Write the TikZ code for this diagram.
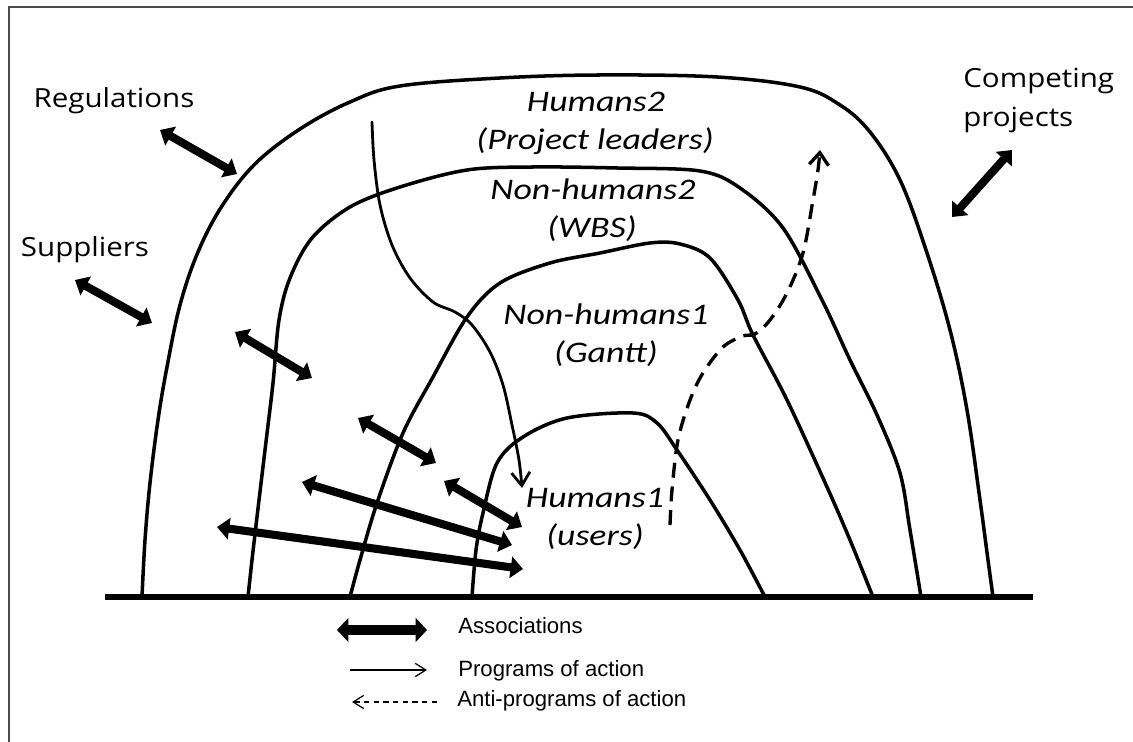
\documentclass[tikz,border=0pt]{standalone}
\usepackage{fontspec}
\usetikzlibrary{arrows.meta}
\newfontfamily\labelfont[FakeStretch=1.12]{Open Sans}
\newfontfamily\handfont[FakeStretch=1.2]{Carlito}
\newfontfamily\legendfont{Liberation Sans}
\begin{document}
\begin{tikzpicture}[x=0.02cm,y=-0.02cm,
  layer/.style={line width=2pt, line cap=round, line join=round},
  ground/.style={line width=2.9pt},
  frameline/.style={line width=1.1pt, black!70},
  assoc/.style={line width=4.6pt,
    {Triangle[length=7pt,width=12pt]}-{Triangle[length=7pt,width=12pt]}},
  assocleg/.style={line width=5.8pt,
    {Triangle[length=6.5pt,width=13.5pt]}-{Triangle[length=6.5pt,width=13.5pt]}},
  prog/.style={line width=1.6pt, line cap=round,
    -{Straight Barb[length=7.5pt,width=10.5pt]}},
  anti/.style={line width=1.9pt, dash pattern=on 8.5pt off 5pt,
    -{Straight Barb[length=7pt,width=11pt]}},
  progleg/.style={line width=0.7pt, -{Straight Barb[length=6pt,width=7.5pt]}},
  antileg/.style={line width=0.7pt, dash pattern=on 3pt off 2.5pt,
    -{Straight Barb[length=6pt,width=7.5pt]}},
  lbl/.style={font=\labelfont\fontsize{15}{18}\selectfont, inner sep=0pt},
  hand/.style={font=\handfont\itshape\fontsize{17}{20}\selectfont, inner sep=0pt},
  leg/.style={font=\legendfont\fontsize{12.6}{15}\selectfont, inner sep=0pt}]
\useasboundingbox (0,0) rectangle (1133,742);

% page frame (top and left edges)
\draw[frameline] (9,742) -- (9,7) -- (1133,7);

% ground line
\coordinate (gL) at (105,597);
\coordinate (gR) at (1033,597);
\draw[ground] (gL) -- (gR);

% outer layer: Humans2
\draw[layer] plot[smooth, tension=0.6] coordinates {
  (142,597) (145,540) (150,483) (158,420) (167,367) (180,305) (198,252)
  (222,206) (255,164) (300,129) (350,102) (400,86) (500,78) (600,75)
  (717,77) (800,87) (840,105) (870,132) (900,180) (926,250) (950,330)
  (967,410) (980,500) (988,560) (993,597)};

% second layer: Non-humans2
\draw[layer] plot[smooth, tension=0.55] coordinates {
  (248,597) (252,560) (257,517) (265,450) (273,383) (279,320) (290,278)
  (312,238) (350,207) (400,187) (467,170) (533,167) (617,168) (700,171)
  (740,188) (783,228) (822,300) (850,360) (877,415) (900,473) (910,530)
  (921,597)};

% third layer: Non-humans1
\draw[layer] plot[smooth, tension=0.55] coordinates {
  (350,597) (360,560) (377,503) (403,433) (433,377) (467,317) (500,283)
  (550,263) (600,253) (650,243) (680,244) (710,258) (738,300) (753,335)
  (787,400) (827,487) (850,540) (873,597)};

% inner layer: Humans1
\draw[layer] plot[smooth, tension=0.55] coordinates {
  (472,597) (476,550) (483,513) (497,463) (523,437) (567,418) (633,413)
  (657,423) (677,450) (710,500) (740,550) (765,597)};

% program of action
\coordinate (prgS) at (372,122);
\coordinate (prgE) at (522,488);
\draw[prog] plot[smooth, tension=0.55] coordinates {
  (prgS) (374,160) (380,205) (392,245) (410,278) (433,302) (455,312)
  (472,325) (490,352) (503,385) (512,425) (519,460) (prgE)};

% anti-program of action
\coordinate (antS) at (670,525);
\coordinate (antE) at (820,150);
\draw[anti] plot[smooth, tension=0.55] coordinates {
  (antS) (672,490) (678,440) (690,400) (703,373) (723,347) (743,336)
  (755,334) (770,320) (787,293) (803,253) (813,200) (818,170) (antE)};

% associations
\coordinate (a1s) at (160,130); \coordinate (a1e) at (237,174);
\coordinate (a2s) at (75,280);  \coordinate (a2e) at (152,323);
\coordinate (a3s) at (1012,150); \coordinate (a3e) at (952,217);
\coordinate (a4s) at (235,332); \coordinate (a4e) at (312,378);
\coordinate (a5s) at (358,418); \coordinate (a5e) at (436,463);
\coordinate (a6s) at (444,481); \coordinate (a6e) at (522,527);
\coordinate (a7s) at (302,482); \coordinate (a7e) at (512,545);
\coordinate (a8s) at (217,527); \coordinate (a8e) at (523,569);
\foreach \i in {1,...,8} \draw[assoc] (a\i s) -- (a\i e);

% outside actors
\node[lbl, anchor=base] (reg) at (114,108) {Regulations};
\node[lbl, anchor=base] (sup) at (85,257) {Suppliers};
\node[lbl, anchor=base west] (comp1) at (963,88) {Competing};
\node[lbl, anchor=base west] (comp2) at (963,127) {projects};

% layer labels
\node[hand, anchor=base] (h2a) at (596,112) {Humans2};
\node[hand, anchor=base] (h2b) at (595,150) {(Project leaders)};
\node[hand, anchor=base] (n2a) at (593,200) {Non-humans2};
\node[hand, anchor=base] (n2b) at (592,238) {(WBS)};
\node[hand, anchor=base] (n1a) at (606,325) {Non-humans1};
\node[hand, anchor=base] (n1b) at (606,363) {(Gantt)};
\node[hand, anchor=base] (h1a) at (595,508) {Humans1};
\node[hand, anchor=base] (h1b) at (595,546) {(users)};

% legend
\coordinate (l1s) at (337,630); \coordinate (l1e) at (427,630);
\coordinate (l2s) at (350,670); \coordinate (l2e) at (427,670);
\coordinate (l3s) at (437,702); \coordinate (l3e) at (352,702);
\draw[assocleg] (l1s) -- (l1e);
\draw[progleg] (l2s) -- (l2e);
\draw[antileg] (l3s) -- (l3e);
\node[leg, anchor=base west] (t1) at (458,634) {Associations};
\node[leg, anchor=base west] (t2) at (458,677) {Programs of action};
\node[leg, anchor=base west] (t3) at (457,707) {Anti-programs of action};
\end{tikzpicture}
\end{document}
